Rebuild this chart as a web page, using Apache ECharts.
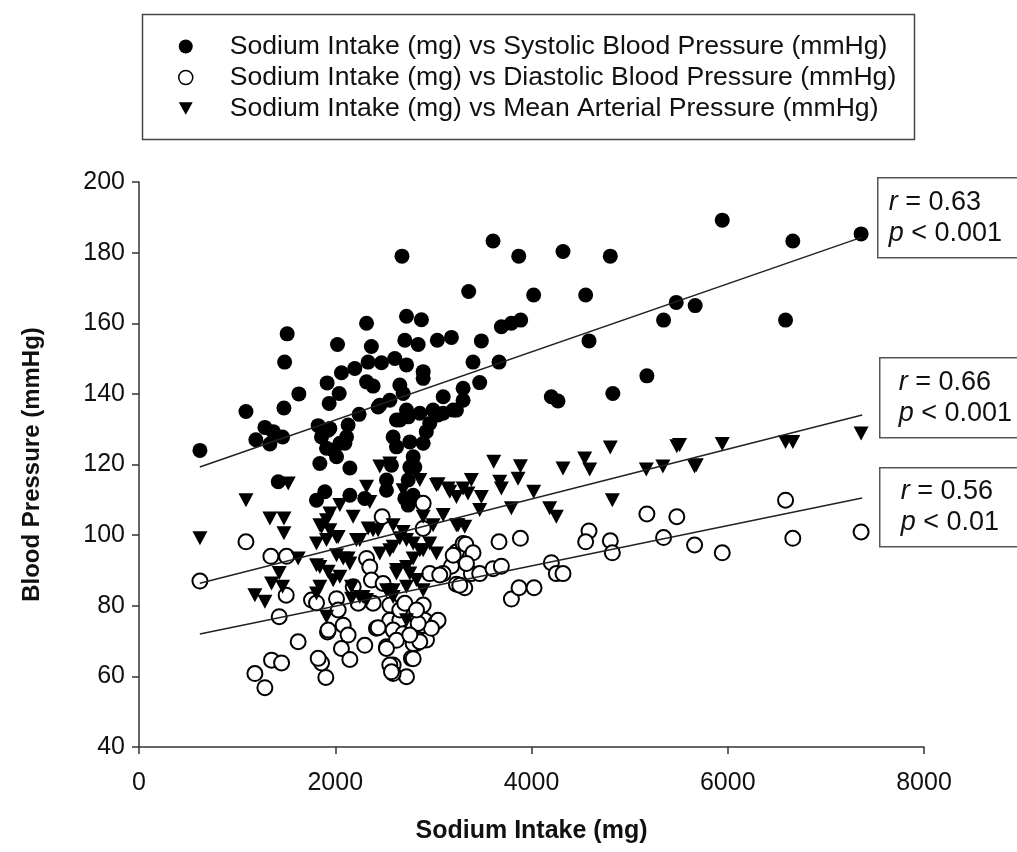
<!DOCTYPE html>
<html>
<head>
<meta charset="utf-8">
<script src="https://cdn.jsdelivr.net/npm/echarts@6/dist/echarts.min.js"></script>
<style>
    html, body {margin: 0; padding: 0; background: #fff;}
    #chart {width: 1017px; height: 852px;}
</style>
</head>
<body>
<div id="chart"></div>
<script>
    // values: [sodium mg, pressure mmHg]
    const systolic = [
        [621, 124], [1090, 135], [1191, 127], [1283, 130.5], [1368, 129.3], [1334, 125.8], [1463, 127.8], [1419, 115.1],
        [1477, 136], [1484, 149], [1510, 157], [1629, 140],
        [1826, 131], [1945, 130.2], [2131, 131.2], [1860, 127.8], [1911, 124.6], [2047, 126], [2115, 127.8], [2013, 122.2],
        [1843, 120.3], [2149, 119], [1928, 129.7], [1979, 124.1], [2098, 126],
        [1809, 109.9], [1894, 112.3], [2149, 111.3], [2301, 110.4],
        [1917, 143.1], [2040, 140.1], [1938, 137.3], [2023, 154], [2063, 146], [2199, 147.2],
        [2319, 160], [2368, 153.4], [2335, 149], [2471, 148.8], [2607, 150], [2726, 148.2], [2319, 143.4], [2386, 142.2],
        [2658, 142.5], [2692, 140.1], [2243, 134.2], [2437, 136.3], [2556, 138.2], [2454, 136.8],
        [2680, 179], [2726, 162], [2878, 161], [2709, 155.2], [2845, 154], [3040, 155.2], [3184, 156], [2896, 146.3], [2896, 144.4],
        [2624, 132.6], [2726, 135.4], [2862, 134.5], [2963, 131.6], [2590, 127.8], [2624, 125], [2760, 126.4], [2896, 126],
        [2794, 122.2], [2760, 119.3], [2573, 119.8], [2658, 132.6], [2743, 133.5], [2928, 129.3], [2997, 135.4], [3100, 134.5],
        [3202, 135.4], [3048, 134], [3100, 139.2], [3303, 141.6], [3235, 135.4], [3303, 138.2],
        [2522, 115.6], [2522, 112.7], [2743, 115.6], [2709, 110.4], [2743, 108.5], [2794, 111.3], [2811, 119.3],
        [3360, 169], [3608, 183.3], [3870, 179], [4321, 180.3], [4803, 179], [4022, 168], [4552, 168], [3693, 159], [3795, 160],
        [3890, 160.9], [3489, 155], [4586, 155], [3404, 149], [3669, 149], [3472, 143.2], [4202, 139.2], [4270, 138],
        [4829, 140.1], [5176, 145.1], [5346, 160.9], [5475, 165.9], [5668, 165], [5944, 189.2], [6663, 183.3], [7359, 185.3],
        [6589, 160.9]
    ];
    const diastolic = [
        [621, 87], [1090, 98.1], [1344, 94], [1504, 94], [1500, 83], [1429, 76.9], [1622, 69.8], [1351, 64.6], [1453, 63.8],
        [1181, 60.8], [1283, 56.8], [1904, 59.7], [1860, 63.8], [1826, 65.1],
        [1921, 72.6], [2081, 74.5], [2131, 71.7], [2063, 67.9], [2149, 64.8], [2301, 68.8], [2420, 73.6], [2522, 68.4],
        [2590, 63.2], [2726, 59.9], [2590, 60.8], [2776, 65.1],
        [2478, 105.2], [1758, 81.6], [1809, 80.8], [2013, 82], [2030, 78.8], [2183, 85.4], [2234, 80.7], [2386, 80.7],
        [2319, 93.4], [2352, 91], [2369, 87.3],
        [2556, 75.9], [2658, 75.9], [2590, 73.1], [2692, 72.1], [2794, 74], [2896, 80.2], [2912, 75.9], [3031, 75.4],
        [2862, 70.3], [2930, 70.3], [2828, 69.3],
        [2896, 109], [2896, 101.9], [3235, 95.2], [3303, 97.6],
        [5176, 106], [5481, 105.2], [4586, 101.2], [4552, 98.1], [4803, 98.4], [4824, 95], [5346, 99.3], [5662, 97.2],
        [3669, 98.1], [3887, 99.1],
        [3330, 97.4], [3404, 95], [3184, 91.2], [3100, 89.1], [3387, 89.1], [3472, 89.1], [3608, 90.5], [3693, 91.2],
        [3235, 86.1], [3320, 85.1], [4202, 92.2], [4253, 89.1], [4321, 89.1], [3795, 81.9], [3873, 85.1], [4026, 85.1],
        [3048, 75.9], [2980, 73.6], [2845, 75], [2794, 69.3], [2794, 65], [2862, 69.8],
        [6589, 109.9], [5944, 95], [6663, 99.1], [7359, 100.9],
        [1928, 73.1], [2437, 73.8], [2624, 70.2], [2760, 71.7], [2522, 67.9], [2556, 63.2], [2573, 61.3],
        [2488, 86.3], [2556, 80.2], [2658, 78.8], [2709, 80.7], [2828, 78.8], [2963, 89.1], [3065, 88.7], [3202, 94.3],
        [3269, 85.8], [3337, 92]
    ];
    const mean = [
        [621, 99.1], [1090, 109.9], [1334, 104.7], [1477, 104.7], [1477, 100.5], [1521, 114.6], [1622, 93.4], [1429, 89.3],
        [1351, 86.3], [1463, 85.4], [1181, 83], [1283, 81.1], [1911, 76.9],
        [2454, 119.4], [2556, 120.3], [2319, 113.7], [2352, 109.4], [2047, 108.5], [2182, 105.2], [1911, 104.2], [1860, 102.3],
        [2013, 99.5], [1809, 97.6], [2250, 98.6], [2386, 101.4],
        [1945, 106.1], [1843, 102.8], [1945, 101.4], [1911, 98.6], [2030, 99.5], [2216, 98.6], [2335, 101.9], [2437, 101.4],
        [2590, 102.8], [2692, 100.9], [2658, 99.1], [2794, 97.6],
        [1843, 91], [1928, 89.6], [2081, 93.4], [2149, 92], [2047, 88.2], [2166, 85.4], [1843, 85.4], [1979, 87.2],
        [2250, 82.5], [2319, 81.6], [1809, 91.5], [2013, 94.3], [2131, 93.4], [1809, 83.5], [2166, 82], [2284, 82.5],
        [2454, 94.8], [2590, 96.7], [2726, 98.6], [2862, 95.7], [2963, 97.6], [2556, 95.7], [2624, 90.1], [2726, 91],
        [2794, 93.4], [2896, 95.7], [3031, 94.8],
        [2624, 89.1], [2760, 89.1], [2590, 84.4], [2726, 85.4], [2828, 87.3], [2896, 84.4], [2522, 84.4], [2590, 82.5],
        [2726, 75.9],
        [2692, 112.7], [2862, 115.6], [3031, 114.2], [2896, 105.2], [2997, 102.8], [3150, 113.2], [3235, 110.8], [3303, 113.2],
        [3100, 105.7], [3235, 102.8],
        [3615, 120.8], [3887, 119.5], [4321, 118.9], [4542, 121.7], [4593, 118.6], [4803, 124.8], [5481, 125.2], [5170, 118.6],
        [5339, 119.4], [5662, 119.4],
        [3863, 116], [3676, 115.1], [3693, 113.2], [4022, 112.3], [3795, 107.6], [3472, 107.1], [3387, 115.6], [3353, 111.8],
        [3489, 110.8], [3167, 112.3], [3048, 114.4], [3252, 102.8], [3320, 102.4], [4185, 107.6], [4253, 105.2], [4824, 109.9],
        [5509, 125.5], [5944, 125.8], [6589, 126.4], [6663, 126.4], [7359, 128.8], [5679, 119.8]
    ];

    // regression lines, end points
    const systolicFit = [[620, 119.3], [7370, 184.4]];
    const meanFit = [[620, 86.4], [7370, 134]];
    const diastolicFit = [[620, 72], [7370, 110.5]];

    const seriesNames = [
        'Sodium Intake (mg) vs Systolic Blood Pressure (mmHg)',
        'Sodium Intake (mg) vs Diastolic Blood Pressure (mmHg)',
        'Sodium Intake (mg) vs Mean Arterial Pressure (mmHg)'
    ];
    const rValues = ['0.63', '0.66', '0.56'];
    const pValues = ['0.001', '0.001', '0.01'];

    const FONT = 'Liberation Sans, Arial, sans-serif';
    const AxisColor = '#333';
    const DOWN_TRIANGLE = 'path://M0,0L20,0L10,18Z';

    function getStatBox(idx, box) {
        return {
            type: 'group',
            left: box.x,
            top: box.y,
            children: [
                {
                    type: 'rect',
                    shape: {x: 0, y: 0, width: 160, height: box.h},
                    style: {fill: '#fff', stroke: '#555', lineWidth: 1.5}
                },
                {
                    type: 'text',
                    x: box.tx,
                    y: box.h / 2,
                    style: {
                        text: '{i|r} = ' + rValues[idx] + '\n{i|p} < ' + pValues[idx],
                        font: '27px ' + FONT,
                        fill: '#111',
                        lineHeight: 31,
                        verticalAlign: 'middle',
                        rich: {
                            i: {fontStyle: 'italic', fontSize: 27, fontFamily: FONT, fill: '#111', lineHeight: 31}
                        }
                    }
                }
            ]
        };
    }

    function scatter(name, data, symbol, style, extra) {
        return Object.assign({
            name,
            type: 'scatter',
            data,
            symbol,
            symbolSize: 15,
            itemStyle: Object.assign({opacity: 1}, style),
            emphasis: {disabled: true},
            z: 2
        }, extra || {});
    }

    function fitLine(data) {
        return {
            type: 'line',
            data,
            showSymbol: false,
            silent: true,
            lineStyle: {color: '#222', width: 1.5},
            z: 5
        };
    }

    const chart = echarts.init(document.getElementById('chart'), null, {renderer: 'canvas'});
    chart.setOption({
        animation: false,
        backgroundColor: '#fff',
        textStyle: {fontFamily: FONT},
        grid: {left: 139, top: 182, right: 93, bottom: 105},
        legend: {
            data: [
                {name: seriesNames[0], icon: 'circle'},
                {name: seriesNames[1], icon: 'circle', itemStyle: {color: '#fff', borderColor: '#000', borderWidth: 1.5}},
                {name: seriesNames[2], icon: DOWN_TRIANGLE}
            ],
            orient: 'vertical',
            left: 173,
            top: 28,
            itemWidth: 14,
            itemHeight: 14,
            itemGap: 4,
            selectedMode: false,
            textStyle: {fontSize: 26.6, lineHeight: 27, color: '#111', fontFamily: FONT, padding: [0, 0, 0, 32]}
        },
        xAxis: {
            type: 'value',
            min: 0,
            max: 8000,
            interval: 2000,
            name: 'Sodium Intake (mg)',
            nameLocation: 'middle',
            nameGap: 72,
            nameTextStyle: {fontSize: 25, fontWeight: 'bold', color: '#111', fontFamily: FONT},
            axisLine: {lineStyle: {color: AxisColor, width: 1.5}},
            axisTick: {length: 7, lineStyle: {color: AxisColor, width: 1.5}},
            axisLabel: {fontSize: 25, color: '#111', margin: 24, formatter: v => String(v)},
            splitLine: {show: false}
        },
        yAxis: {
            type: 'value',
            min: 40,
            max: 200,
            interval: 20,
            name: 'Blood Pressure (mmHg)',
            nameLocation: 'middle',
            nameGap: 95,
            nameTextStyle: {fontSize: 24, fontWeight: 'bold', color: '#111', fontFamily: FONT},
            axisLine: {show: true, lineStyle: {color: AxisColor, width: 1.5}},
            axisTick: {show: true, length: 7, lineStyle: {color: AxisColor, width: 1.5}},
            axisLabel: {fontSize: 25, color: '#111', margin: 14},
            splitLine: {show: false}
        },
        graphic: [
            {
                type: 'rect',
                left: 140,
                top: 12,
                shape: {width: 772, height: 125},
                style: {fill: 'none', stroke: '#444', lineWidth: 1.5},
                z: -1
            },
            getStatBox(0, {x: 877, y: 177, h: 80, tx: 11}),
            getStatBox(1, {x: 879, y: 357, h: 80, tx: 19}),
            getStatBox(2, {x: 879, y: 467, h: 79, tx: 21})
        ],
        series: [
            scatter(seriesNames[0], systolic, 'circle', {color: '#000'}),
            scatter(seriesNames[1], diastolic, 'circle', {color: '#fff', borderColor: '#000', borderWidth: 2}),
            scatter(seriesNames[2], mean, DOWN_TRIANGLE, {color: '#000'}, {symbolSize: [15, 14]}),
            fitLine(systolicFit),
            fitLine(meanFit),
            fitLine(diastolicFit)
        ]
    });
</script>
</body>
</html>
